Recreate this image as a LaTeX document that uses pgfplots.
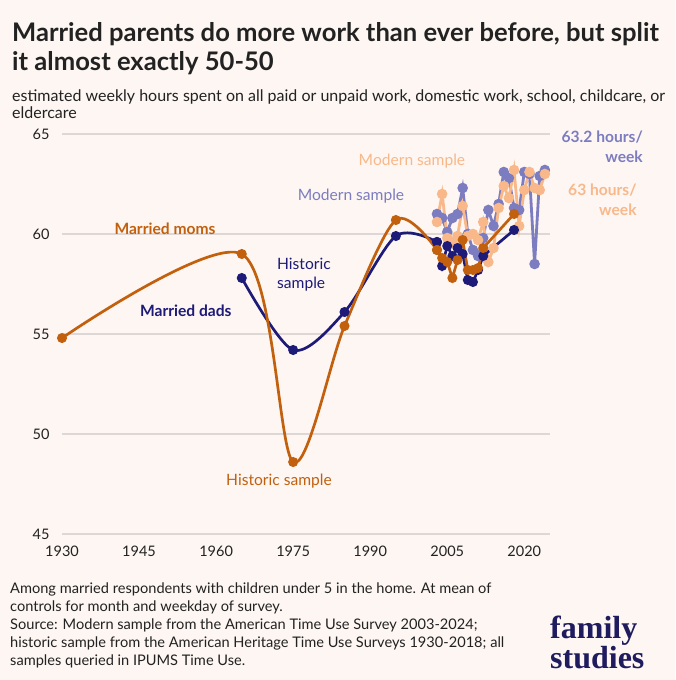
\documentclass[border=0pt]{standalone}
\usepackage{pgfplots}
\pgfplotsset{compat=1.18}
\usepackage{fontspec}
\setmainfont{Lato}
\newfontfamily\logofont{Liberation Serif}
\definecolor{bgcol}{HTML}{FDF6F2}
\definecolor{momcol}{HTML}{C2600E}
\definecolor{dadcol}{HTML}{1E1B78}
\definecolor{mdadcol}{HTML}{7C7CC0}
\definecolor{mmomcol}{HTML}{F8B88A}
\definecolor{txtcol}{HTML}{222222}
\definecolor{gridcol}{HTML}{DDD8D5}
\definecolor{logocol}{HTML}{1E1B5E}
\begin{document}
\begin{tikzpicture}
\fill[bgcol] (0,0) rectangle (675pt,-680pt);
\useasboundingbox (0,0) rectangle (675pt,-680pt);
% titles
\node[anchor=base west,inner sep=0pt,text=txtcol,font=\fontsize{25.6}{30}\selectfont\bfseries] at (12pt,-41pt) {Married parents do more work than ever before, but split};
\node[anchor=base west,inner sep=0pt,text=txtcol,font=\fontsize{25.6}{30}\selectfont\bfseries] at (12pt,-70pt) {it almost exactly 50-50};
\node[anchor=base west,inner sep=0pt,text=txtcol,font=\fontsize{16}{18}\selectfont] at (12pt,-101pt) {estimated weekly hours spent on all paid or unpaid work, domestic work, school, childcare, or};
\node[anchor=base west,inner sep=0pt,text=txtcol,font=\fontsize{16}{18}\selectfont] at (12pt,-118pt) {eldercare};
% footnote
\foreach \t [count=\i] in {Among married respondents with children under 5 in the home. At mean of,controls for month and weekday of survey.,Source: Modern sample from the American Time Use Survey 2003-2024;,historic sample from the American Heritage Time Use Surveys 1930-2018; all,samples queried in IPUMS Time Use.}{
\node[anchor=base west,inner sep=0pt,text=txtcol,font=\fontsize{14.6}{17}\selectfont] at (10pt,{-593pt-(\i-1)*18pt}) {\t};
}
% logo
\node[anchor=base west,inner sep=0pt,text=logocol,align=left,font=\fontsize{32}{24}\selectfont\logofont\bfseries] at (550pt,-668pt) {family\\[-0.5pt]studies};
\begin{axis}[
  at={(62pt,-534pt)}, anchor=south west,
  scale only axis, width=488pt, height=400pt,
  xmin=1930, xmax=2025, ymin=45, ymax=65,
  xtick={1930,1945,1960,1975,1990,2005,2020},
  ytick={45,50,55,60,65},
  xticklabel style={/pgf/number format/1000 sep={}},
  /pgf/number format/assume math mode=true,
  ticklabel style={font=\fontsize{14.5}{16}\selectfont, text=txtcol},
  xticklabel style={yshift=-8pt},
  yticklabel style={xshift=-9pt},
  major tick length=0pt,
  axis line style={draw=none},
  ymajorgrids, grid style={gridcol, line width=1.2pt},
  clip=false,
]
% modern dads
\addplot[mdadcol, line width=2.8pt, mark=*, mark size=3.8pt] coordinates {
(2003,61.0)(2004,60.8)(2005,60.1)(2006,60.8)(2007,61.0)(2008,62.3)(2009,60.0)(2010,59.2)(2011,58.9)(2012,59.8)(2013,61.2)(2014,60.4)(2015,61.5)(2016,63.1)(2017,62.8)(2018,61.3)(2019,61.2)(2020,63.1)(2021,63.0)(2022,58.5)(2023,62.9)(2024,63.2)};
% modern moms
\addplot[mmomcol, line width=2.8pt, mark=*, mark size=3.8pt] coordinates {
(2003,60.6)(2004,62.0)(2005,59.8)(2006,59.6)(2007,59.9)(2008,61.4)(2009,59.9)(2010,60.0)(2011,59.7)(2012,60.6)(2013,58.6)(2014,59.3)(2015,61.3)(2016,62.4)(2017,61.8)(2018,63.2)(2019,60.4)(2020,62.2)(2021,63.1)(2022,62.3)(2023,62.2)(2024,63.0)};
% historic dads
\addplot[dadcol, line width=2.7pt, smooth, mark=*, mark size=3.6pt] coordinates {
(1965,57.8)(1975,54.2)(1985,56.1)(1995,59.9)(2003,59.6)};
\addplot[dadcol, line width=2.7pt, mark=*, mark size=3.6pt] coordinates {
(2003,59.6)(2004,58.4)(2005,59.4)(2006,58.9)(2007,59.3)(2008,59.0)(2009,57.7)(2010,57.6)(2011,58.2)(2012,58.9)(2018,60.2)};
% historic moms
\addplot[momcol, line width=2.7pt, smooth, mark=*, mark size=3.6pt] coordinates {
(1930,54.8)(1965,59.0)(1975,48.6)(1985,55.4)(1995,60.7)(2003,59.2)};
\addplot[momcol, line width=2.7pt, mark=*, mark size=3.6pt] coordinates {
(2003,59.2)(2004,58.8)(2005,58.6)(2006,57.8)(2007,58.7)(2008,59.7)(2009,58.2)(2010,58.2)(2011,58.3)(2012,59.3)(2018,61.0)};
% annotations
\node[text=momcol,font=\fontsize{15.6}{19}\selectfont\bfseries] at (axis cs:1950.05,60.25) {Married moms};
\node[text=dadcol,font=\fontsize{15.6}{19}\selectfont\bfseries] at (axis cs:1954.1,56.15) {Married dads};
\node[text=dadcol,font=\fontsize{15.6}{19}\selectfont,anchor=west,align=left,inner sep=0pt] at (axis cs:1971.85,57.98) {Historic\\sample};
\node[text=momcol,font=\fontsize{15.6}{19}\selectfont] at (axis cs:1972.24,47.65) {Historic sample};
\node[text=mdadcol,font=\fontsize{15.6}{19}\selectfont] at (axis cs:1986.26,61.9) {Modern sample};
\node[text=mmomcol,font=\fontsize{15.6}{19}\selectfont] at (axis cs:1998.13,63.65) {Modern sample};
\node[text=mdadcol,font=\fontsize{15.6}{20}\selectfont\bfseries,anchor=east,align=right,inner sep=0pt] at (axis cs:2043.1,64.35) {63.2 hours/\\week};
\node[text=mmomcol,font=\fontsize{15.6}{20}\selectfont\bfseries,anchor=east,align=right,inner sep=0pt] at (axis cs:2041.9,61.7) {63 hours/\\week};
\end{axis}
\end{tikzpicture}
\end{document}
